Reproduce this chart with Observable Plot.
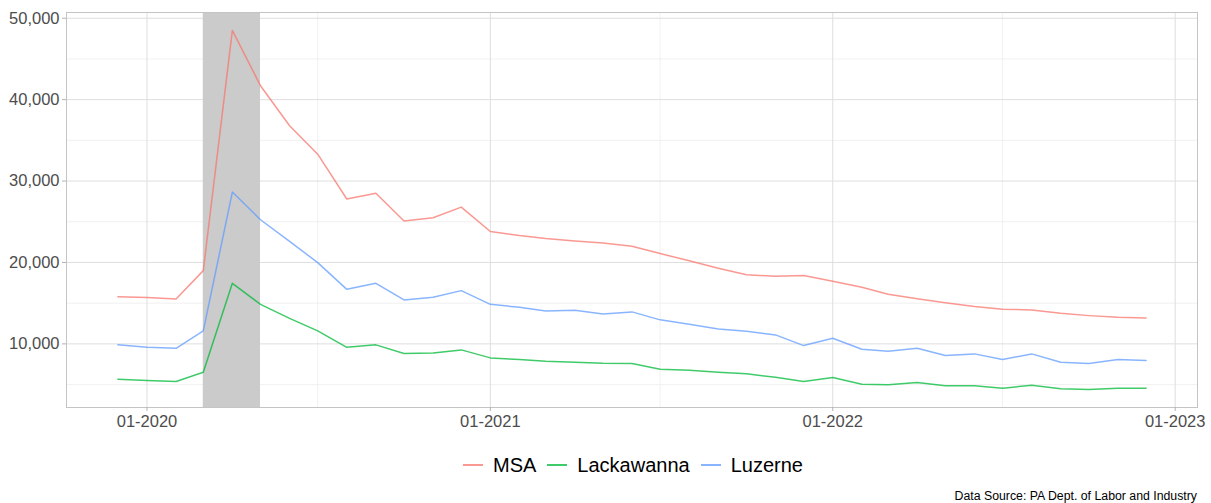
<!DOCTYPE html>
<html>
<head>
<meta charset="utf-8">
<script src="https://cdn.jsdelivr.net/npm/d3@7"></script>
<script src="https://cdn.jsdelivr.net/npm/@observablehq/plot@0.6"></script>
<style>
  html, body { margin: 0; padding: 0; background: #fff; }
  #wrap { position: relative; width: 1211px; height: 503px; font-family: "Liberation Sans", Arial, sans-serif; }
  #legend { position: absolute; left: 463px; top: 453px; height: 24px; display: flex; align-items: center; font-size: 20px; color: #000; white-space: nowrap; }
  .sw { display: inline-block; width: 20px; height: 1.5px; margin-right: 10px; }
  .item { display: flex; align-items: center; margin-right: 11px; }
  #caption { position: absolute; right: 14px; top: 489px; font-size: 12.3px; line-height: 14px; color: #000; }
</style>
</head>
<body>
<div id="wrap">
  <div id="chart"></div>
  <div id="legend"></div>
  <div id="caption">Data Source: PA Dept. of Labor and Industry</div>
</div>
<script>
// Months (first of month), Dec 2019 - Dec 2022
const months = [
  "2019-12",
  "2020-01","2020-02","2020-03","2020-04","2020-05","2020-06","2020-07","2020-08","2020-09","2020-10","2020-11","2020-12",
  "2021-01","2021-02","2021-03","2021-04","2021-05","2021-06","2021-07","2021-08","2021-09","2021-10","2021-11","2021-12",
  "2022-01","2022-02","2022-03","2022-04","2022-05","2022-06","2022-07","2022-08","2022-09","2022-10","2022-11","2022-12"
];
const seriesNames = ["MSA", "Lackawanna", "Luzerne"];
const seriesColors = ["#F8766D", "#00BA38", "#619CFF"];
const msa = [
  15800,
  15700,15500,19000,48500,41700,36800,33300,27800,28500,25100,25500,26800,
  23800,23300,22950,22650,22400,22000,21100,20200,19300,18500,18300,18400,
  17700,16950,16100,15550,15050,14600,14250,14170,13750,13470,13260,13190
];
const lackawanna = [
  5660,
  5500,5370,6520,17440,14860,13140,11600,9580,9880,8810,8890,9260,
  8280,8070,7870,7740,7620,7580,6880,6760,6520,6320,5900,5370,
  5870,5040,4970,5250,4850,4850,4550,4920,4480,4390,4550,4550
];
const luzerne = [
  9880,
  9580,9460,11600,28650,25250,22590,19980,16700,17440,15400,15720,16540,
  14860,14490,14050,14120,13680,13930,12950,12410,11840,11550,11100,9790,
  10690,9340,9100,9460,8560,8770,8070,8770,7740,7580,8070,7950
];
const recession = { start: "2020-03", end: "2020-05" };
const xTicks = ["2020-01", "2021-01", "2022-01", "2023-01"];
const xMinor = ["2020-07", "2021-07", "2022-07"];
const yTicks = [10000, 20000, 30000, 40000, 50000];
const yMinor = [5000, 15000, 25000, 35000, 45000];

const parseM = s => { const [y, m] = s.split("-").map(Number); return new Date(Date.UTC(y, m - 1, 1)); };
const valuesBySeries = [msa, lackawanna, luzerne];
const data = [];
seriesNames.forEach((name, i) => {
  months.forEach((m, j) => data.push({ series: name, date: parseM(m), value: valuesBySeries[i][j] }));
});

// ggplot-style 5% expansion
const dates = months.map(parseM);
const dMin = +d3.min(dates), dMax = +d3.max(dates);
const dPad = (dMax - dMin) * 0.05;
const allVals = data.map(d => d.value);
const vMin = d3.min(allVals), vMax = d3.max(allVals);
const vPad = (vMax - vMin) * 0.05;

const chart = Plot.plot({
  width: 1211,
  height: 435,
  marginLeft: 66,
  marginRight: 14,
  marginTop: 12,
  marginBottom: 28,
  style: { fontFamily: "Liberation Sans, Arial, sans-serif", fontSize: "16.5px", color: "#4d4d4d", background: "#fff" },
  x: { type: "utc", domain: [new Date(dMin - dPad), new Date(dMax + dPad)] },
  y: { domain: [vMin - vPad, vMax + vPad] },
  color: { domain: seriesNames, range: seriesColors },
  marks: [
    Plot.ruleY(yMinor, { stroke: "#ededed", strokeWidth: 0.8 }),
    Plot.ruleX(xMinor.map(parseM), { stroke: "#ededed", strokeWidth: 0.8 }),
    Plot.ruleY(yTicks, { stroke: "#dedede", strokeWidth: 1 }),
    Plot.ruleX(xTicks.map(parseM), { stroke: "#dedede", strokeWidth: 1 }),
    Plot.rect([recession], { x1: d => parseM(d.start), x2: d => parseM(d.end), fill: "#cbcbcb" }),
    Plot.line(data, { x: "date", y: "value", stroke: "series", strokeWidth: 1.5, strokeOpacity: 0.75 }),
    Plot.frame({ stroke: "#c4c4c4", strokeWidth: 1 }),
    Plot.axisY(yTicks, { tickSize: 4, tickPadding: 3, stroke: "#b3b3b3", tickFormat: d3.format(","), label: null }),
    Plot.axisX(xTicks.map(parseM), { tickSize: 4, tickPadding: 4, stroke: "#b3b3b3", tickFormat: d3.utcFormat("%m-%Y"), label: null })
  ]
});
document.getElementById("chart").appendChild(chart);

const legend = document.getElementById("legend");
seriesNames.forEach((name, i) => {
  const item = document.createElement("div");
  item.className = "item";
  const sw = document.createElement("span");
  sw.className = "sw";
  sw.style.background = seriesColors[i];
  sw.style.opacity = 0.75;
  const t = document.createElement("span");
  t.textContent = name;
  item.appendChild(sw);
  item.appendChild(t);
  legend.appendChild(item);
});
</script>
</body>
</html>
